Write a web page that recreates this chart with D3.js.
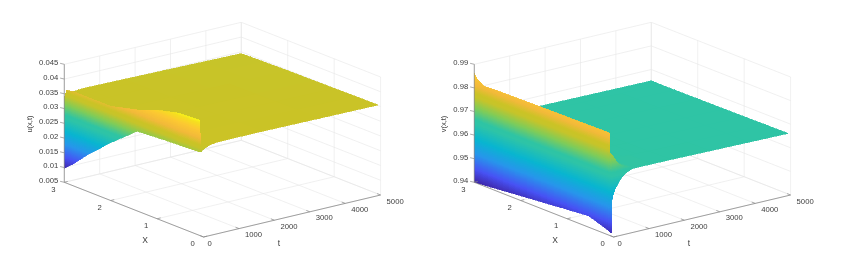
<!DOCTYPE html>
<html>
    <head>
        <meta charset="utf-8">
        <title></title>
        <script src="https://d3js.org/d3.v7.min.js"></script>
        <style>
            html, body { margin: 0; padding: 0; background: #fff; }
            svg { display: block; filter: blur(0.4px); }
            text { font-family: "Liberation Sans", Arial, sans-serif; fill: #404040; }
        </style>
    </head>
    <body>
       <div id="svgcontainer"></div>
       <script>
            var width = 842;
            var height = 255;

            var xTicks = [0, 1, 2, 3];
            var tTicks = [0, 1000, 2000, 3000, 4000, 5000];
            var uTicks = [0.005, 0.01, 0.015, 0.02, 0.025, 0.03, 0.035, 0.04, 0.045];
            var vTicks = [0.94, 0.95, 0.96, 0.97, 0.98, 0.99];
            var uTickLabels = ["0.005", "0.01", "0.015", "0.02", "0.025", "0.03", "0.035", "0.04", "0.045"];
            var vTickLabels = ["0.94", "0.95", "0.96", "0.97", "0.98", "0.99"];

            // surface samples, one row per t, one column per x
            var xValues = [0.05, 0.1, 0.54, 1, 1.43, 2, 2.5, 2.8, 2.95, 3];
            var tValues = [0, 2, 15, 40, 100, 250, 400, 600, 1700, 5000];

            var uValues = [
                [0.0336, 0.0333, 0.0329, 0.0325, 0.0320, 0.0246, 0.0174, 0.0125, 0.0105, 0.0097],
                [0.0337, 0.0440, 0.0436, 0.0418, 0.0392, 0.0369, 0.0369, 0.0369, 0.0365, 0.0336],
                [0.0338, 0.0352, 0.0352, 0.0352, 0.0352, 0.0352, 0.0352, 0.0350, 0.0345, 0.0340],
                [0.0340, 0.0352, 0.0352, 0.0352, 0.0352, 0.0352, 0.0352, 0.0351, 0.0346, 0.0342],
                [0.0345, 0.0353, 0.0353, 0.0353, 0.0353, 0.0352, 0.0352, 0.0352, 0.0348, 0.0345],
                [0.0352, 0.0355, 0.0354, 0.0354, 0.0353, 0.0352, 0.0352, 0.0352, 0.0351, 0.0350],
                [0.0355, 0.0356, 0.0355, 0.0354, 0.0353, 0.0352, 0.0352, 0.0352, 0.0352, 0.0352],
                [0.0356, 0.0356, 0.0355, 0.0354, 0.0353, 0.0352, 0.0352, 0.0352, 0.0353, 0.0353],
                [0.0356, 0.0356, 0.0355, 0.0354, 0.0353, 0.0352, 0.0352, 0.0351, 0.0351, 0.0351],
                [0.0352, 0.0352, 0.0351, 0.0350, 0.0349, 0.0348, 0.0346, 0.0345, 0.0344, 0.0344]
            ];

            var vValues = [
                [0.9414, 0.9418, 0.9448, 0.9439, 0.9431, 0.9420, 0.9410, 0.9404, 0.9401, 0.9400],
                [0.9480, 0.9834, 0.9832, 0.9831, 0.9830, 0.9828, 0.9826, 0.9823, 0.9845, 0.9862],
                [0.9547, 0.9752, 0.9750, 0.9750, 0.9750, 0.9750, 0.9750, 0.9755, 0.9770, 0.9780],
                [0.9568, 0.9742, 0.9740, 0.9740, 0.9740, 0.9740, 0.9740, 0.9745, 0.9758, 0.9765],
                [0.9593, 0.9734, 0.9730, 0.9730, 0.9730, 0.9730, 0.9730, 0.9735, 0.9745, 0.9750],
                [0.9630, 0.9695, 0.9695, 0.9695, 0.9695, 0.9695, 0.9695, 0.9695, 0.9700, 0.9700],
                [0.9652, 0.9678, 0.9678, 0.9678, 0.9678, 0.9678, 0.9678, 0.9678, 0.9680, 0.9680],
                [0.9665, 0.9668, 0.9667, 0.9667, 0.9666, 0.9666, 0.9665, 0.9665, 0.9665, 0.9665],
                [0.9664, 0.9664, 0.9662, 0.9661, 0.9660, 0.9659, 0.9658, 0.9657, 0.9657, 0.9657],
                [0.9657, 0.9657, 0.9656, 0.9655, 0.9654, 0.9653, 0.9652, 0.9652, 0.9652, 0.9652]
            ];

            // parula colormap stops, flat around the two plateau colours
            var parulaStops = [0, 0.11, 0.24, 0.365, 0.50, 0.53, 0.63, 0.72, 0.755, 0.82, 0.90, 0.97, 1];
            var parulaColors = ["#3e26a8", "#4752f4", "#2796eb", "#08b5d0", "#2fc4a6", "#2fc4a4", "#80cc58",
                                "#c6c42a", "#cbc326", "#f2b93a", "#fcc832", "#f6e01f", "#f9fb15"];

            var svg = d3.select("#svgcontainer")
                .append("svg")
                .attr("width", width)
                .attr("height", height);

            var color = d3.scaleLinear()
                .domain(parulaStops)
                .range(parulaColors)
                .interpolate(d3.interpolateRgb);

            drawPanel(0, [0.005, 0.045], [0.0097, 0.044], uTicks, uTickLabels, uValues, "u(x,t)", 32);
            drawPanel(410, [0.94, 0.99], [0.94, 0.99], vTicks, vTickLabels, vValues, "v(x,t)", 36);

            function drawPanel(shift, zDomain, cLim, zTicks, zLabels, values, zName, zNameX) {
                var g = svg.append("g").attr("transform", "translate(" + shift + ",0)");

                // oblique view, each axis adds its own screen offset to the corner x=0, t=0
                var xDx = d3.scaleLinear().domain([0, 3]).range([203.6, 64.3]);
                var xDy = d3.scaleLinear().domain([0, 3]).range([237, 182.3]);
                var tDx = d3.scaleLinear().domain([0, 5000]).range([0, 177]);
                var tDy = d3.scaleLinear().domain([0, 5000]).range([0, -42]);
                var zDy = d3.scaleLinear().domain(zDomain).range([0, -118]);
                var cScale = d3.scaleLinear().domain(cLim).range([0, 1]).clamp(true);

                function project(x, t, z) {
                    return [xDx(x) + tDx(t), xDy(x) + tDy(t) + zDy(z)];
                }
                function line(a, b, stroke, w) {
                    g.append("line")
                        .attr("x1", a[0]).attr("y1", a[1])
                        .attr("x2", b[0]).attr("y2", b[1])
                        .attr("stroke", stroke)
                        .attr("stroke-width", w);
                }

                var grid = "#e6e6e6";
                var axisColor = "#8a8a8a";
                var zMin = zDomain[0], zMax = zDomain[1];

                // floor and the two back walls
                xTicks.forEach(function(x) {
                    line(project(x, 0, zMin), project(x, 5000, zMin), grid, 0.6);
                    line(project(x, 5000, zMin), project(x, 5000, zMax), grid, 0.6);
                });
                tTicks.forEach(function(t) {
                    line(project(0, t, zMin), project(3, t, zMin), grid, 0.6);
                    line(project(3, t, zMin), project(3, t, zMax), grid, 0.6);
                });
                zTicks.forEach(function(z) {
                    line(project(3, 0, z), project(3, 5000, z), grid, 0.6);
                    line(project(3, 5000, z), project(0, 5000, z), grid, 0.6);
                });

                // surface, far corner first so that the front covers the back
                for (var j = tValues.length - 2; j >= 0; j--) {
                    for (var i = xValues.length - 2; i >= 0; i--) {
                        drawCell(i, j);
                    }
                }

                function drawCell(i, j) {
                    var x0 = xValues[i], x1 = xValues[i + 1];
                    var t0 = tValues[j], t1 = tValues[j + 1];
                    var z00 = values[j][i], z10 = values[j][i + 1];
                    var z01 = values[j + 1][i], z11 = values[j + 1][i + 1];
                    var px = function(z) { return Math.abs(zDy(z) - zDy(zMin)); };
                    var nx = Math.max(1, Math.ceil(Math.max(Math.abs(px(z10) - px(z00)), Math.abs(px(z11) - px(z01))) / 0.7));
                    var nt = Math.max(1, Math.ceil(Math.max(Math.abs(px(z01) - px(z00)), Math.abs(px(z11) - px(z10))) / 0.7));
                    nx = Math.min(nx, 40);
                    function z(a, b) {
                        return (z00 * (1 - a) + z10 * a) * (1 - b) + (z01 * (1 - a) + z11 * a) * b;
                    }
                    function p(a, b) {
                        return project(x0 + (x1 - x0) * a, t0 + (t1 - t0) * b, z(a, b));
                    }
                    for (var b = nt - 1; b >= 0; b--) {
                        for (var a = nx - 1; a >= 0; a--) {
                            var a0 = a / nx, a1 = (a + 1) / nx, b0 = b / nt, b1 = (b + 1) / nt;
                            var c = color(cScale(z((a0 + a1) / 2, (b0 + b1) / 2)));
                            g.append("path")
                                .attr("d", d3.line()([p(a0, b0), p(a1, b0), p(a1, b1), p(a0, b1)]) + "Z")
                                .attr("fill", c)
                                .attr("stroke", c)
                                .attr("stroke-width", 0.6)
                                .attr("shape-rendering", "crispEdges");
                        }
                    }
                }

                // axis lines
                line(project(3, 0, zMin), project(3, 0, zMax), axisColor, 0.8);
                line(project(3, 0, zMin), project(0, 0, zMin), axisColor, 0.8);
                line(project(0, 0, zMin), project(0, 5000, zMin), axisColor, 0.8);

                // ticks and labels
                zTicks.forEach(function(z, k) {
                    var p = project(3, 0, z);
                    line(p, [p[0] - 4.2, p[1] - 1], axisColor, 0.7);
                    g.append("text")
                        .attr("x", p[0] - 6).attr("y", p[1] + 0.8)
                        .attr("text-anchor", "end")
                        .attr("font-size", 7.7)
                        .text(zLabels[k]);
                });
                xTicks.forEach(function(x) {
                    var p = project(x, 0, zMin);
                    line(p, [p[0] + 3.5, p[1] - 0.9], axisColor, 0.7);
                    g.append("text")
                        .attr("x", p[0] - 11).attr("y", p[1] + 9.2)
                        .attr("text-anchor", "middle")
                        .attr("font-size", 7.7)
                        .text(x);
                });
                tTicks.forEach(function(t) {
                    var p = project(0, t, zMin);
                    line(p, [p[0] - 3.5, p[1] - 1.4], axisColor, 0.7);
                    g.append("text")
                        .attr("x", p[0] + 6).attr("y", p[1] + 8.6)
                        .attr("text-anchor", t === 0 ? "middle" : "start")
                        .attr("font-size", 7.7)
                        .text(t);
                });

                g.append("text")
                    .attr("x", 145).attr("y", 243)
                    .attr("text-anchor", "middle")
                    .attr("font-size", 8.5)
                    .text("X");
                g.append("text")
                    .attr("x", 279).attr("y", 246)
                    .attr("text-anchor", "middle")
                    .attr("font-size", 8.5)
                    .text("t");
                g.append("text")
                    .attr("transform", "translate(" + zNameX + ",124) rotate(-90)")
                    .attr("text-anchor", "middle")
                    .attr("font-size", 7.5)
                    .text(zName);
            }
       </script>
    </body>
</html>
